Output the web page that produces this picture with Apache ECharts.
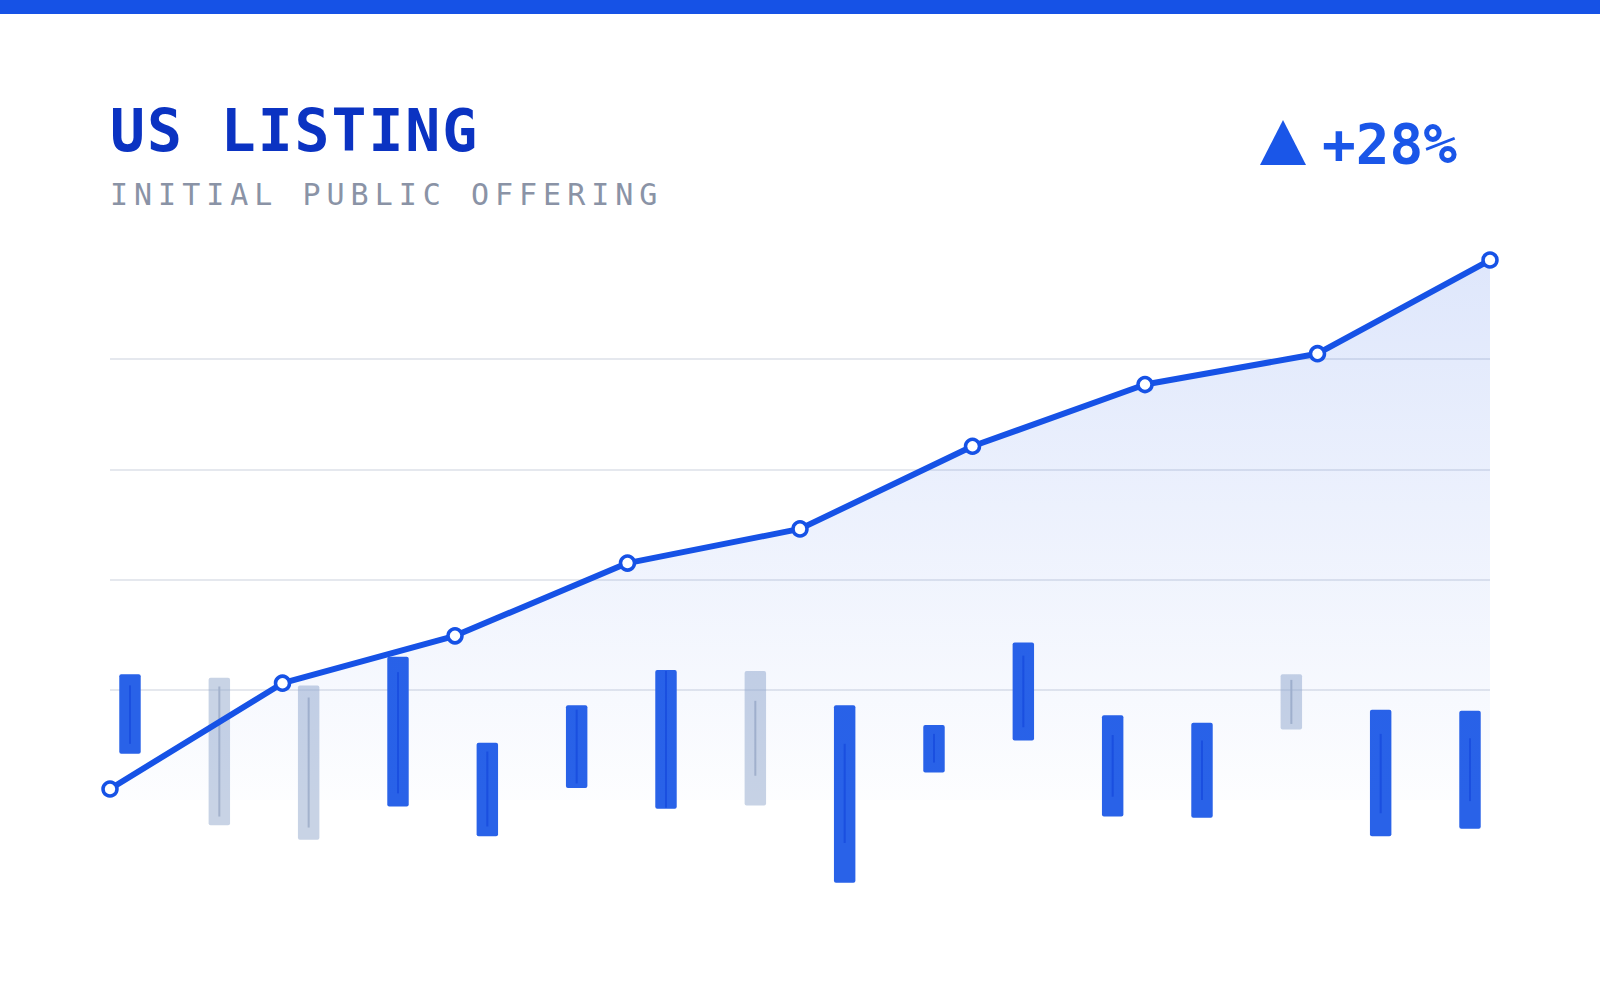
<!DOCTYPE html>
<html>
<head>
<meta charset="utf-8">
<style>
  html, body { margin: 0; padding: 0; background: #ffffff; }
  #chart { width: 1600px; height: 1000px; }
</style>
<script src="https://cdn.jsdelivr.net/npm/echarts@6/dist/echarts.min.js"></script>
</head>
<body>
<div id="chart"></div>
<script>
// ---- data ----
const lineCategories = ['P1', 'P2', 'P3', 'P4', 'P5', 'P6', 'P7', 'P8', 'P9'];
const lineValues = [1.0, 10.6, 14.9, 21.5, 24.6, 32.1, 37.7, 40.5, 49.0];

const candleCategories = ['D1','D2','D3','D4','D5','D6','D7','D8','D9','D10','D11','D12','D13','D14','D15','D16'];
const candleOpen  = [4.2, 11.1, 10.4, -0.6, -3.3, 1.1, -0.8, 11.7, -7.5, 2.5, 5.4, -1.5, -1.6, 11.4, -3.3, -2.6];
const candleClose = [11.4, -2.3, -3.6, 13.0, 5.2, 8.6, 11.8, -0.5, 8.6, 6.8, 14.3, 7.7, 7.0, 6.4, 8.2, 8.1];
const innerLow    = [5.1, -1.5, -2.5, 0.6, -2.4, 1.5, -0.7, 2.2, -3.9, 3.4, 6.6, 0.3, 0.0, 6.9, -1.2, -0.1];
const innerHigh   = [10.4, 10.3, 9.3, 11.6, 4.4, 8.2, 11.7, 9.0, 5.1, 6.0, 13.1, 5.9, 5.4, 10.9, 6.0, 5.6];

const titleText = 'US LISTING';
const subtitleText = 'INITIAL PUBLIC OFFERING';
const changeText = '+28%';

const candleData = candleCategories.map((c, i) => [i, candleOpen[i], candleClose[i], innerLow[i], innerHigh[i]]);

const BLUE = '#1652e6';
const GRID = '#dde1e9';

function renderCandle(params, api) {
  const x = api.value(0);
  const o = api.value(1), c = api.value(2), lo = api.value(3), hi = api.value(4);
  const up = c >= o;
  const pTop = api.coord([x, Math.max(o, c)]);
  const pBot = api.coord([x, Math.min(o, c)]);
  const pHi = api.coord([x, hi]);
  const pLo = api.coord([x, lo]);
  const w = api.size([1, 0])[0] * 0.24;
  return {
    type: 'group',
    children: [
      {
        type: 'rect',
        shape: { x: pTop[0] - w / 2, y: pTop[1], width: w, height: pBot[1] - pTop[1], r: 2 },
        style: { fill: up ? '#2962e8' : 'rgba(146,168,204,0.5)' }
      },
      {
        type: 'line',
        shape: { x1: pTop[0], y1: pHi[1], x2: pTop[0], y2: pLo[1] },
        style: { stroke: up ? '#1a4fe0' : '#a3b2cc', lineWidth: 2 }
      }
    ]
  };
}

const chart = echarts.init(document.getElementById('chart'), null, { renderer: 'svg' });

const option = {
  animation: false,
  backgroundColor: '#ffffff',
  grid: [
    { left: 110, right: 110, top: 249, bottom: 200 },
    { left: 85.33, right: 85.33, top: 249, bottom: 89.8 }
  ],
  xAxis: [
    { type: 'category', gridIndex: 0, data: lineCategories, boundaryGap: false,
      axisLine: { show: false }, axisTick: { show: false }, axisLabel: { show: false }, splitLine: { show: false } },
    { type: 'category', gridIndex: 1, data: candleCategories, boundaryGap: true,
      axisLine: { show: false }, axisTick: { show: false }, axisLabel: { show: false }, splitLine: { show: false } }
  ],
  yAxis: [
    { type: 'value', gridIndex: 0, min: 0, max: 50, interval: 10,
      axisLine: { show: false }, axisTick: { show: false }, axisLabel: { show: false },
      splitLine: { show: true, lineStyle: { width: 1.5, color: ['rgba(0,0,0,0)', GRID, GRID, GRID, GRID, 'rgba(0,0,0,0)'] } } },
    { type: 'value', gridIndex: 1, min: -10, max: 50, interval: 10,
      axisLine: { show: false }, axisTick: { show: false }, axisLabel: { show: false }, splitLine: { show: false } }
  ],
  series: [
    {
      type: 'custom',
      xAxisIndex: 1, yAxisIndex: 1,
      renderItem: renderCandle,
      data: candleData,
      z: 2,
      clip: false
    },
    {
      type: 'line',
      xAxisIndex: 0, yAxisIndex: 0,
      data: lineValues,
      z: 3,
      symbol: 'circle',
      symbolSize: 14,
      showAllSymbol: true,
      lineStyle: { color: BLUE, width: 6 },
      itemStyle: { color: '#ffffff', borderColor: BLUE, borderWidth: 3.5 },
      areaStyle: {
        color: new echarts.graphic.LinearGradient(0, 0, 0, 1, [
          { offset: 0, color: 'rgba(22,82,230,0.2)' },
          { offset: 1, color: 'rgba(22,82,230,0.015)' }
        ])
      }
    }
  ],
  graphic: [
    { type: 'rect', left: 0, top: 0, shape: { x: 0, y: 0, width: 1600, height: 14 }, style: { fill: BLUE } },
    { type: 'text', x: 110, y: 130.5, style: { text: titleText, font: 'bold 58px "DejaVu Sans Mono"', fill: '#0b33c2', textVerticalAlign: 'middle' } },
    { type: 'text', x: 110, y: 194, style: { text: subtitleText, font: '30px "DejaVu Sans Mono"', fill: '#8a93a6', textVerticalAlign: 'middle' } },
    { type: 'polygon', shape: { points: [[1283, 120], [1306, 165], [1260, 165]] }, style: { fill: '#1a56e8' } },
    { type: 'text', x: 1322, y: 143.5, style: { text: changeText, font: 'bold 56px "DejaVu Sans Mono"', fill: '#1a56e8', textVerticalAlign: 'middle' } }
  ]
};

chart.setOption(option);

function applySpacing() {
  document.querySelectorAll('#chart svg text').forEach(t => {
    const s = t.textContent;
    if (s === titleText) t.style.letterSpacing = '2px';
    else if (s === subtitleText) t.style.letterSpacing = '6px';
  });
}
applySpacing();
chart.on('finished', applySpacing);
</script>
</body>
</html>
